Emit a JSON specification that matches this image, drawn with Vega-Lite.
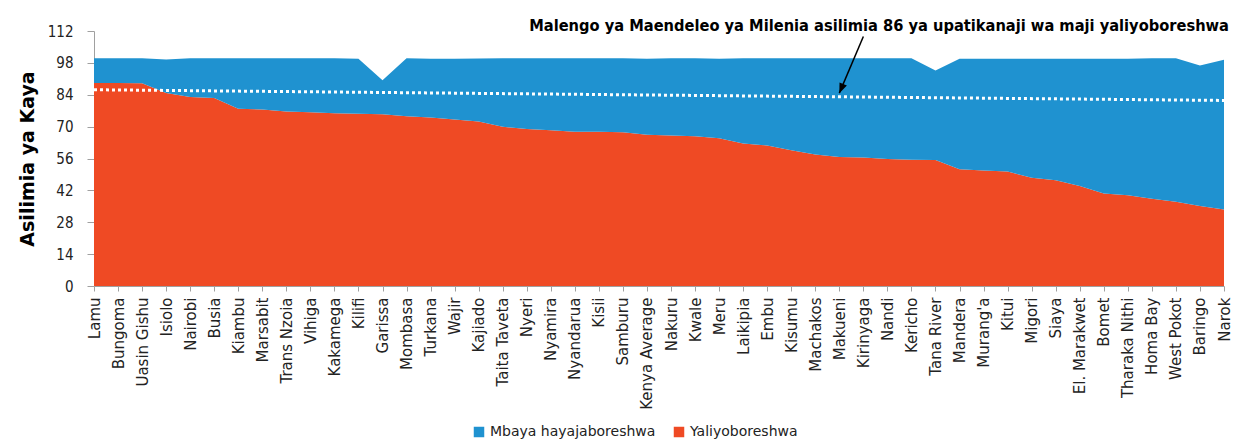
{
  "$schema": "https://vega.github.io/schema/vega-lite/v6.json",
  "width": 1130,
  "height": 255,
  "autosize": "none",
  "padding": {"left": 94, "top": 31, "right": 31, "bottom": 160},
  "background": "white",
  "config": {"view": {"stroke": null}, "font": "DejaVu Sans"},
  "datasets": {
    "areas": [
      {"c": "Lamu", "s": "Yaliyoboreshwa", "v": 89.2}, {"c": "Lamu", "s": "Mbaya hayajaboreshwa", "v": 10.8},
      {"c": "Bungoma", "s": "Yaliyoboreshwa", "v": 89.2}, {"c": "Bungoma", "s": "Mbaya hayajaboreshwa", "v": 10.8},
      {"c": "Uasin Gishu", "s": "Yaliyoboreshwa", "v": 89.0}, {"c": "Uasin Gishu", "s": "Mbaya hayajaboreshwa", "v": 11.0},
      {"c": "Isiolo", "s": "Yaliyoboreshwa", "v": 84.8}, {"c": "Isiolo", "s": "Mbaya hayajaboreshwa", "v": 14.7},
      {"c": "Nairobi", "s": "Yaliyoboreshwa", "v": 83.0}, {"c": "Nairobi", "s": "Mbaya hayajaboreshwa", "v": 17.0},
      {"c": "Busia", "s": "Yaliyoboreshwa", "v": 82.6}, {"c": "Busia", "s": "Mbaya hayajaboreshwa", "v": 17.4},
      {"c": "Kiambu", "s": "Yaliyoboreshwa", "v": 77.9}, {"c": "Kiambu", "s": "Mbaya hayajaboreshwa", "v": 22.1},
      {"c": "Marsabit", "s": "Yaliyoboreshwa", "v": 77.5}, {"c": "Marsabit", "s": "Mbaya hayajaboreshwa", "v": 22.5},
      {"c": "Trans Nzoia", "s": "Yaliyoboreshwa", "v": 76.6}, {"c": "Trans Nzoia", "s": "Mbaya hayajaboreshwa", "v": 23.4},
      {"c": "Vihiga", "s": "Yaliyoboreshwa", "v": 76.3}, {"c": "Vihiga", "s": "Mbaya hayajaboreshwa", "v": 23.7},
      {"c": "Kakamega", "s": "Yaliyoboreshwa", "v": 75.9}, {"c": "Kakamega", "s": "Mbaya hayajaboreshwa", "v": 24.1},
      {"c": "Kilifi", "s": "Yaliyoboreshwa", "v": 75.7}, {"c": "Kilifi", "s": "Mbaya hayajaboreshwa", "v": 24.1},
      {"c": "Garissa", "s": "Yaliyoboreshwa", "v": 75.4}, {"c": "Garissa", "s": "Mbaya hayajaboreshwa", "v": 15.0},
      {"c": "Mombasa", "s": "Yaliyoboreshwa", "v": 74.6}, {"c": "Mombasa", "s": "Mbaya hayajaboreshwa", "v": 25.4},
      {"c": "Turkana", "s": "Yaliyoboreshwa", "v": 74.0}, {"c": "Turkana", "s": "Mbaya hayajaboreshwa", "v": 25.8},
      {"c": "Wajir", "s": "Yaliyoboreshwa", "v": 73.1}, {"c": "Wajir", "s": "Mbaya hayajaboreshwa", "v": 26.7},
      {"c": "Kajiado", "s": "Yaliyoboreshwa", "v": 72.2}, {"c": "Kajiado", "s": "Mbaya hayajaboreshwa", "v": 27.7},
      {"c": "Taita Taveta", "s": "Yaliyoboreshwa", "v": 69.9}, {"c": "Taita Taveta", "s": "Mbaya hayajaboreshwa", "v": 30.1},
      {"c": "Nyeri", "s": "Yaliyoboreshwa", "v": 69.0}, {"c": "Nyeri", "s": "Mbaya hayajaboreshwa", "v": 31.0},
      {"c": "Nyamira", "s": "Yaliyoboreshwa", "v": 68.4}, {"c": "Nyamira", "s": "Mbaya hayajaboreshwa", "v": 31.6},
      {"c": "Nyandarua", "s": "Yaliyoboreshwa", "v": 67.8}, {"c": "Nyandarua", "s": "Mbaya hayajaboreshwa", "v": 32.2},
      {"c": "Kisii", "s": "Yaliyoboreshwa", "v": 67.7}, {"c": "Kisii", "s": "Mbaya hayajaboreshwa", "v": 32.3},
      {"c": "Samburu", "s": "Yaliyoboreshwa", "v": 67.5}, {"c": "Samburu", "s": "Mbaya hayajaboreshwa", "v": 32.5},
      {"c": "Kenya Average", "s": "Yaliyoboreshwa", "v": 66.4}, {"c": "Kenya Average", "s": "Mbaya hayajaboreshwa", "v": 33.4},
      {"c": "Nakuru", "s": "Yaliyoboreshwa", "v": 66.1}, {"c": "Nakuru", "s": "Mbaya hayajaboreshwa", "v": 33.9},
      {"c": "Kwale", "s": "Yaliyoboreshwa", "v": 65.8}, {"c": "Kwale", "s": "Mbaya hayajaboreshwa", "v": 34.2},
      {"c": "Meru", "s": "Yaliyoboreshwa", "v": 64.9}, {"c": "Meru", "s": "Mbaya hayajaboreshwa", "v": 34.9},
      {"c": "Laikipia", "s": "Yaliyoboreshwa", "v": 62.6}, {"c": "Laikipia", "s": "Mbaya hayajaboreshwa", "v": 37.4},
      {"c": "Embu", "s": "Yaliyoboreshwa", "v": 61.7}, {"c": "Embu", "s": "Mbaya hayajaboreshwa", "v": 38.3},
      {"c": "Kisumu", "s": "Yaliyoboreshwa", "v": 59.6}, {"c": "Kisumu", "s": "Mbaya hayajaboreshwa", "v": 40.4},
      {"c": "Machakos", "s": "Yaliyoboreshwa", "v": 57.8}, {"c": "Machakos", "s": "Mbaya hayajaboreshwa", "v": 42.2},
      {"c": "Makueni", "s": "Yaliyoboreshwa", "v": 56.7}, {"c": "Makueni", "s": "Mbaya hayajaboreshwa", "v": 43.3},
      {"c": "Kirinyaga", "s": "Yaliyoboreshwa", "v": 56.4}, {"c": "Kirinyaga", "s": "Mbaya hayajaboreshwa", "v": 43.6},
      {"c": "Nandi", "s": "Yaliyoboreshwa", "v": 55.8}, {"c": "Nandi", "s": "Mbaya hayajaboreshwa", "v": 44.2},
      {"c": "Kericho", "s": "Yaliyoboreshwa", "v": 55.5}, {"c": "Kericho", "s": "Mbaya hayajaboreshwa", "v": 44.5},
      {"c": "Tana River", "s": "Yaliyoboreshwa", "v": 55.3}, {"c": "Tana River", "s": "Mbaya hayajaboreshwa", "v": 39.4},
      {"c": "Mandera", "s": "Yaliyoboreshwa", "v": 51.3}, {"c": "Mandera", "s": "Mbaya hayajaboreshwa", "v": 48.5},
      {"c": "Murang'a", "s": "Yaliyoboreshwa", "v": 50.7}, {"c": "Murang'a", "s": "Mbaya hayajaboreshwa", "v": 49.1},
      {"c": "Kitui", "s": "Yaliyoboreshwa", "v": 50.3}, {"c": "Kitui", "s": "Mbaya hayajaboreshwa", "v": 49.5},
      {"c": "Migori", "s": "Yaliyoboreshwa", "v": 47.5}, {"c": "Migori", "s": "Mbaya hayajaboreshwa", "v": 52.3},
      {"c": "Siaya", "s": "Yaliyoboreshwa", "v": 46.5}, {"c": "Siaya", "s": "Mbaya hayajaboreshwa", "v": 53.3},
      {"c": "El. Marakwet", "s": "Yaliyoboreshwa", "v": 43.9}, {"c": "El. Marakwet", "s": "Mbaya hayajaboreshwa", "v": 55.9},
      {"c": "Bomet", "s": "Yaliyoboreshwa", "v": 40.6}, {"c": "Bomet", "s": "Mbaya hayajaboreshwa", "v": 59.2},
      {"c": "Tharaka Nithi", "s": "Yaliyoboreshwa", "v": 39.9}, {"c": "Tharaka Nithi", "s": "Mbaya hayajaboreshwa", "v": 59.9},
      {"c": "Homa Bay", "s": "Yaliyoboreshwa", "v": 38.3}, {"c": "Homa Bay", "s": "Mbaya hayajaboreshwa", "v": 61.7},
      {"c": "West Pokot", "s": "Yaliyoboreshwa", "v": 37.0}, {"c": "West Pokot", "s": "Mbaya hayajaboreshwa", "v": 63.0},
      {"c": "Baringo", "s": "Yaliyoboreshwa", "v": 35.1}, {"c": "Baringo", "s": "Mbaya hayajaboreshwa", "v": 61.8},
      {"c": "Narok", "s": "Yaliyoboreshwa", "v": 33.6}, {"c": "Narok", "s": "Mbaya hayajaboreshwa", "v": 65.8}
    ],
    "target": [
      {"c": "Lamu", "v": 86.2},
      {"c": "Narok", "v": 81.5}
    ],
    "arrow": [
      {"c": "Kirinyaga", "y": 109.6, "c2": "Makueni", "y2": 84.7}
    ],
    "note": [
      {"c": "Narok", "v": 111.8, "t": "Malengo ya Maendeleo ya Milenia asilimia 86 ya upatikanaji wa maji yaliyoboreshwa"}
    ]
  },
  "layer": [
    {
      "data": {"name": "areas"},
      "mark": {"type": "area", "opacity": 1},
      "encoding": {
        "x": {
          "field": "c", "type": "ordinal",
          "scale": {"type": "point", "padding": 0, "domain": ["Lamu","Bungoma","Uasin Gishu","Isiolo","Nairobi","Busia","Kiambu","Marsabit","Trans Nzoia","Vihiga","Kakamega","Kilifi","Garissa","Mombasa","Turkana","Wajir","Kajiado","Taita Taveta","Nyeri","Nyamira","Nyandarua","Kisii","Samburu","Kenya Average","Nakuru","Kwale","Meru","Laikipia","Embu","Kisumu","Machakos","Makueni","Kirinyaga","Nandi","Kericho","Tana River","Mandera","Murang'a","Kitui","Migori","Siaya","El. Marakwet","Bomet","Tharaka Nithi","Homa Bay","West Pokot","Baringo","Narok"]},
          "axis": {"title": null, "labelAngle": -90, "labelFontSize": 15, "labelColor": "#222", "domainColor": "#a0a0a0", "tickColor": "#a0a0a0", "tickSize": 5, "labelPadding": 6, "grid": false, "labelOverlap": false}
        },
        "y": {
          "field": "v", "type": "quantitative", "stack": "zero",
          "scale": {"domain": [0, 112], "nice": false},
          "axis": {"title": "Asilimia ya Kaya", "titleFontSize": 19, "titleFontWeight": "bold", "titleColor": "#000", "titlePadding": 10, "values": [0,14,28,42,56,70,84,98,112], "tickCount": 20, "labelOverlap": false, "tickSize": 7, "labelPadding": 14, "labelFont": "DejaVu Sans Condensed", "labelFontSize": 15, "labelColor": "#222", "grid": false, "domainColor": "#a0a0a0", "tickColor": "#a0a0a0"}
        },
        "color": {
          "field": "s", "type": "nominal",
          "scale": {"domain": ["Mbaya hayajaboreshwa", "Yaliyoboreshwa"], "range": ["#1f92d0", "#ef4a24"]},
          "legend": {"orient": "none", "legendX": 378, "legendY": 394, "direction": "horizontal", "title": null, "symbolType": "square", "symbolSize": 110, "symbolStrokeWidth": 0, "labelFontSize": 14, "labelLimit": 0, "labelColor": "#222", "columnPadding": 16, "symbolOpacity": 1}
        },
        "order": {"field": "s", "sort": "descending"}
      }
    },
    {
      "data": {"name": "target"},
      "mark": {"type": "line", "color": "white", "strokeDash": [3, 3], "strokeWidth": 3},
      "encoding": {
        "x": {"field": "c", "type": "ordinal"},
        "y": {"field": "v", "type": "quantitative"}
      }
    },
    {
      "data": {"name": "arrow"},
      "mark": {"type": "rule", "color": "black", "strokeWidth": 1.5},
      "encoding": {
        "x": {"field": "c", "type": "ordinal"},
        "y": {"field": "y", "type": "quantitative"},
        "x2": {"field": "c2"},
        "y2": {"field": "y2"}
      }
    },
    {
      "data": {"name": "arrow"},
      "mark": {"type": "point", "shape": "M0,0L-0.4,-1L0.4,-1Z", "filled": true, "color": "black", "opacity": 1, "size": 400, "angle": 22.9},
      "encoding": {
        "x": {"field": "c2", "type": "ordinal"},
        "y": {"field": "y2", "type": "quantitative"}
      }
    },
    {
      "data": {"name": "note"},
      "mark": {"type": "text", "align": "right", "baseline": "alphabetic", "fontSize": 16.3, "fontWeight": "bold", "font": "DejaVu Sans Condensed", "color": "#000", "dx": 5},
      "encoding": {
        "x": {"field": "c", "type": "ordinal"},
        "y": {"field": "v", "type": "quantitative"},
        "text": {"field": "t"}
      }
    }
  ]
}
